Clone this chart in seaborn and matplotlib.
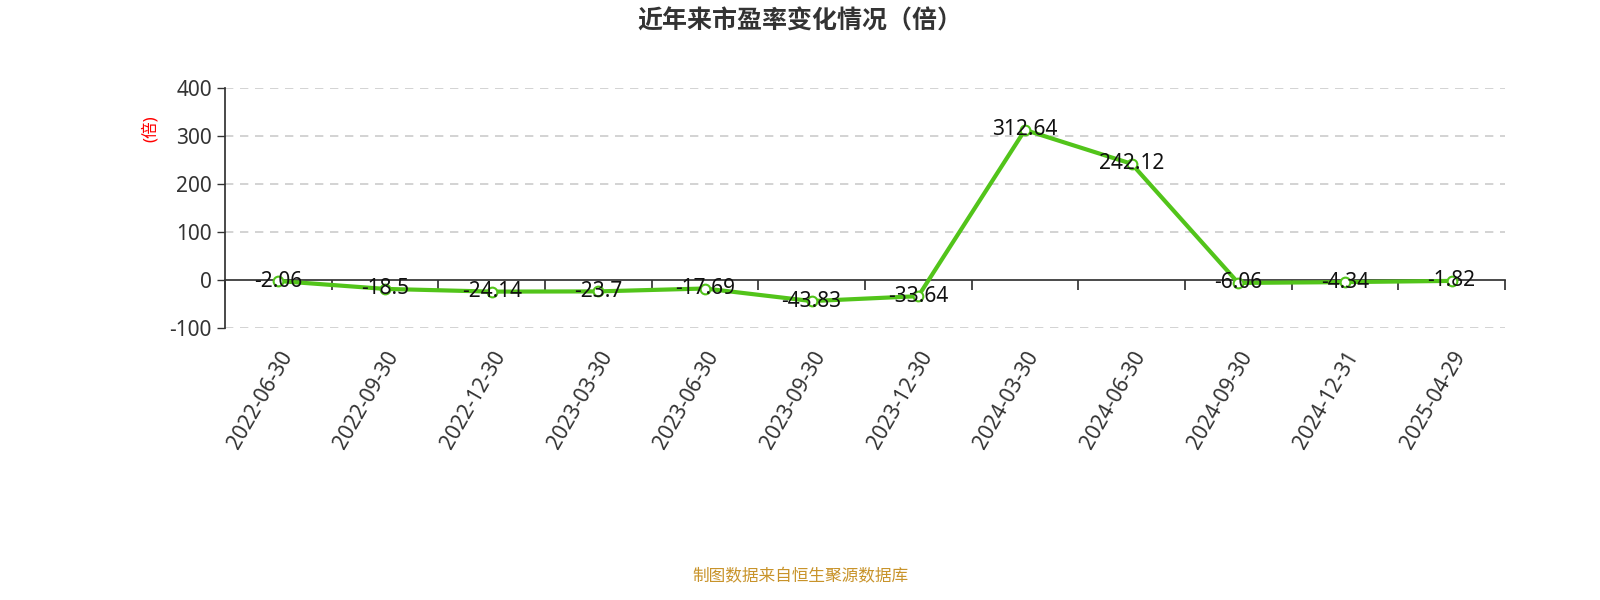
import matplotlib
matplotlib.use("Agg")
import matplotlib.pyplot as plt
import seaborn as sns
import pandas as pd
import numpy as np

dates = ["2022-06-30","2022-09-30","2022-12-30","2023-03-30","2023-06-30","2023-09-30",
         "2023-12-30","2024-03-30","2024-06-30","2024-09-30","2024-12-31","2025-04-29"]
pe = [-2.06,-18.5,-24.14,-23.7,-17.69,-43.83,-33.64,312.64,242.12,-6.06,-4.34,-1.82]
labels = ["-2.06","-18.5","-24.14","-23.7","-17.69","-43.83","-33.64","312.64","242.12","-6.06","-4.34","-1.82"]
yticks = [-100,0,100,200,300,400]

sns.set_theme(style="white")
plt.rcParams['font.family'] = ['Noto Sans', 'Noto Sans CJK SC', 'DejaVu Sans']

fig = plt.figure(figsize=(16,6), dpi=100)
ax = fig.add_axes([0.1406, 0.4533, 0.8, 0.4])
df = pd.DataFrame({"x": np.arange(len(dates)), "y": pe})
green = "#52c41a"
sns.lineplot(data=df, x="x", y="y", ax=ax, color=green, lw=3, marker="o",
             markersize=7, markerfacecolor="white", markeredgecolor=green, markeredgewidth=1.5)
for x, y, t in zip(df.x, df.y, labels):
    ax.text(x, y, t, ha="center", va="center", fontsize=15, color="#111")

ax.set_xlim(-0.5, len(dates)-0.5)
ax.set_ylim(-100, 400)
ax.set_yticks(yticks)
ax.set_yticklabels([str(v) for v in yticks], fontsize=15, color="#333")
for v in yticks:
    if v != 0:
        ax.axhline(v, color="#cccccc", ls=(0,(5,4)), lw=1.2, zorder=0)
ax.set_xticks(df.x)
ax.set_xticklabels(dates, rotation=60, ha="right", rotation_mode="anchor", fontsize=15, color="#333")
ax.tick_params(axis="x", length=0, pad=14)
ax.tick_params(axis="y", length=6, width=1, color="#333", left=True, direction="out")
for s in ["top","right","bottom"]:
    ax.spines[s].set_visible(False)
ax.spines["left"].set_color("#333")
ax.set_xlabel("")
ax.set_ylabel("(倍)", color="red", fontsize=12, labelpad=2)
ax.yaxis.set_label_coords(-0.052, 0.83)

sec = ax.secondary_xaxis(0.2)
sec.set_xticks(np.arange(-0.5, len(dates)), labels=[])
sec.tick_params(axis="x", length=7, color="#333", direction="out")
sec.spines["bottom"].set_color("#333")

fig.text(0.5, 0.963, "近年来市盈率变化情况（倍）", ha="center", va="center", fontsize=18,
         fontweight="bold", color="#333")
fig.text(0.5, 0.038, "制图数据来自恒生聚源数据库", ha="center", va="center", fontsize=12, color="#c8932a")
fig.savefig("out.png")
